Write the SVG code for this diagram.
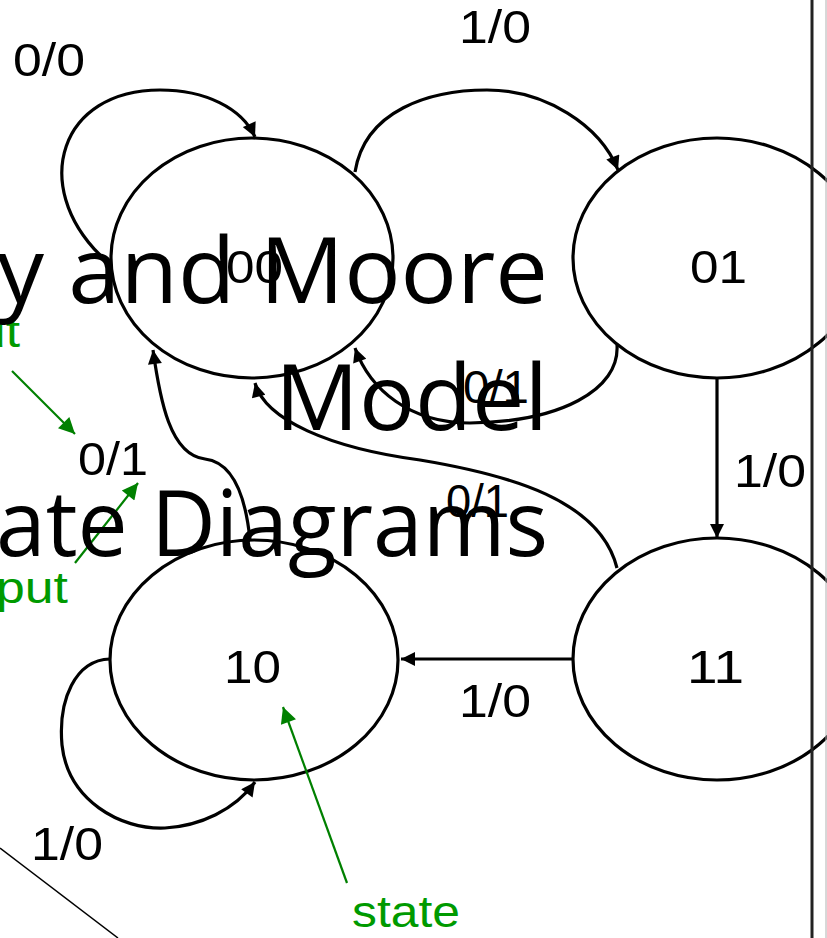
<svg xmlns="http://www.w3.org/2000/svg" width="827" height="938" viewBox="0 0 827 938">
  <style>
    .state { fill: #ffffff; stroke: #000000; stroke-width: 3.2; }
    .lbl { font-family: "Liberation Sans", Arial, sans-serif; font-size: 46px; fill: #000000; }
    .edge { fill: none; stroke: #000000; stroke-width: 3.2; marker-end: url(#ah); }
    .note { fill: none; stroke: #008000; stroke-width: 2.2; marker-end: url(#gh); }
    .ntxt { font-family: "Liberation Sans", Arial, sans-serif; font-size: 44px; fill: #009a00; }
    .title { font-family: "Open Sans", "Noto Sans", sans-serif; font-size: 91px; fill: #000000; }
  </style>
  <defs>
    <marker id="ah" viewBox="0 0 10 10" refX="10" refY="5" markerUnits="userSpaceOnUse" markerWidth="17" markerHeight="14" orient="auto">
      <path d="M0,0 L10,5 L0,10 z" fill="#000000"/>
    </marker>
    <marker id="gh" viewBox="0 0 10 10" refX="10" refY="5" markerUnits="userSpaceOnUse" markerWidth="20" markerHeight="16" orient="auto">
      <path d="M0,0 L10,5 L0,10 z" fill="#008000"/>
    </marker>
  </defs>
  <rect width="827" height="938" fill="#ffffff"/>

  <g id="node-00">
    <ellipse class="state" cx="252" cy="258" rx="141" ry="120"/>
    <text class="lbl" x="226" y="283" textLength="57" lengthAdjust="spacingAndGlyphs">00</text>
  </g>
  <g id="node-01">
    <ellipse class="state" cx="717" cy="258" rx="144" ry="120"/>
    <text class="lbl" x="690" y="283" textLength="57" lengthAdjust="spacingAndGlyphs">01</text>
  </g>
  <g id="node-10">
    <ellipse class="state" cx="254" cy="660" rx="144" ry="120"/>
    <text class="lbl" x="224" y="683" textLength="57" lengthAdjust="spacingAndGlyphs">10</text>
  </g>
  <g id="node-11">
    <ellipse class="state" cx="717" cy="659" rx="144" ry="121"/>
    <text class="lbl" x="687" y="683" textLength="57" lengthAdjust="spacingAndGlyphs">11</text>
  </g>

  <g id="connectors">
    <path class="edge" d="M100 255 C30 185 60 90 160 90 C205 90 242 108 255 137"/>
    <path class="edge" d="M355 172 C365 110 430 90 487 90 C545 90 600 125 618 170"/>
    <path class="edge" d="M617 345 C620 390 560 422 470 423 C410 423 370 390 355 348"/>
    <path class="edge" d="M617 568 C600 500 510 475 420 460 C330 448 265 420 255 383"/>
    <path class="edge" d="M250 540 C245 490 230 462 205 459 C170 455 160 400 153 350"/>
    <path class="edge" d="M717 378 L717 538"/>
    <path class="edge" d="M573 659 L401 659"/>
    <path class="edge" d="M110 659 C75 660 58 700 62 745 C68 800 120 830 165 828 C200 826 235 810 255 782"/>
  </g>

  <g id="edge-labels">
    <text class="lbl" x="13" y="76" textLength="72" lengthAdjust="spacingAndGlyphs">0/0</text>
    <text class="lbl" x="459" y="43" textLength="72" lengthAdjust="spacingAndGlyphs">1/0</text>
    <text class="lbl" x="734" y="487" textLength="72" lengthAdjust="spacingAndGlyphs">1/0</text>
    <text class="lbl" x="459" y="717" textLength="72" lengthAdjust="spacingAndGlyphs">1/0</text>
    <text class="lbl" x="31" y="860" textLength="72" lengthAdjust="spacingAndGlyphs">1/0</text>
    <text class="lbl" x="78" y="475" textLength="70" lengthAdjust="spacingAndGlyphs">0/1</text>
    <text class="lbl" x="463" y="403" textLength="66" lengthAdjust="spacingAndGlyphs">0/1</text>
    <text class="lbl" x="446" y="517" textLength="63" lengthAdjust="spacingAndGlyphs">0/1</text>
  </g>

  <g id="annotations">
    <path class="note" d="M12 371 L75 434"/>
    <path class="note" d="M75 563 L138 483"/>
    <path class="note" d="M347 883 L283 707"/>
    <text class="ntxt" x="-23" y="347" textLength="43" lengthAdjust="spacingAndGlyphs">ut</text>
    <text class="ntxt" x="-4" y="603" textLength="72" lengthAdjust="spacingAndGlyphs">put</text>
    <text class="ntxt" x="352" y="927" textLength="108" lengthAdjust="spacingAndGlyphs">state</text>
  </g>

  <g id="title">
    <text class="title" x="-3" y="303" textLength="551" lengthAdjust="spacingAndGlyphs">y and Moore</text>
    <text class="title" x="275" y="430" textLength="273" lengthAdjust="spacingAndGlyphs">Model</text>
    <text class="title" x="-4" y="556" textLength="552" lengthAdjust="spacingAndGlyphs">ate Diagrams</text>
  </g>

  <g id="frame">
    <line x1="0" y1="848" x2="118" y2="938" stroke="#000000" stroke-width="1.5"/>
    <line x1="812" y1="0" x2="812" y2="938" stroke="#222222" stroke-width="3"/>
    <line x1="826" y1="0" x2="826" y2="938" stroke="#b0b0b0" stroke-width="1"/>
  </g>
</svg>
